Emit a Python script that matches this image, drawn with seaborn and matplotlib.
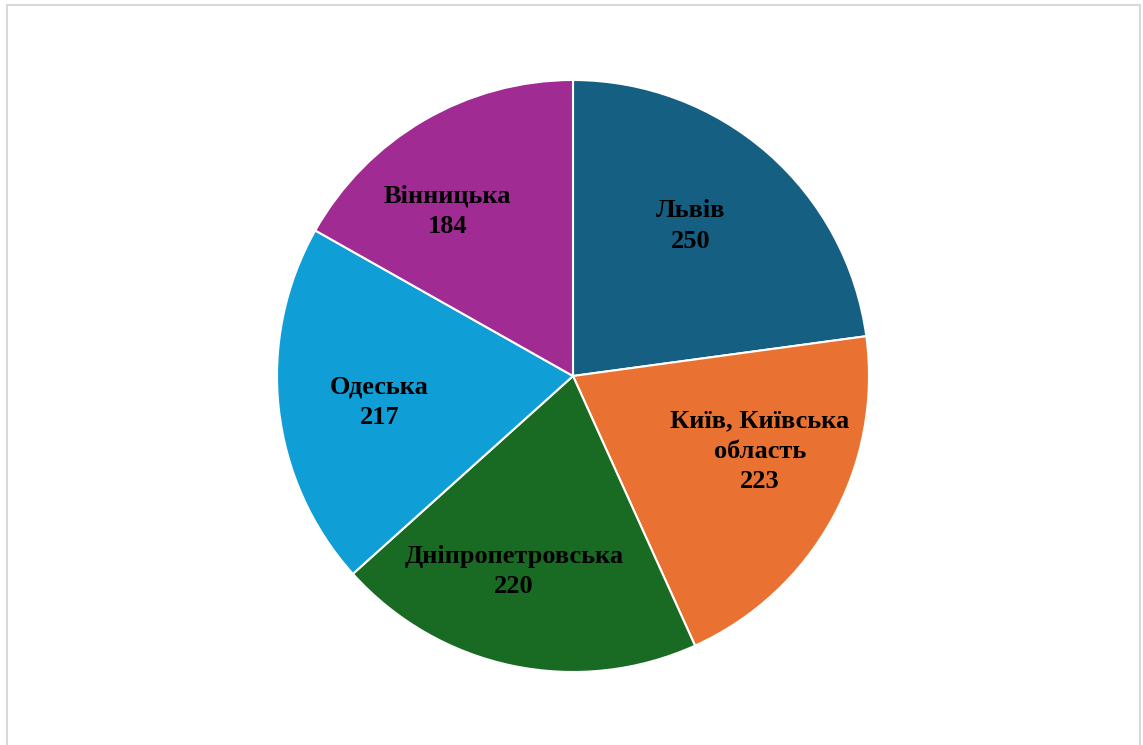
import numpy as np
import matplotlib
matplotlib.use("Agg")
import matplotlib.pyplot as plt
from matplotlib.patches import Rectangle
import seaborn as sns

regions = ["Львів", "Київ, Київська\nобласть", "Дніпропетровська", "Одеська", "Вінницька"]
counts = [250, 223, 220, 217, 184]
colors = ["#156082", "#E97132", "#196B24", "#0F9ED5", "#A02B93"]

sns.set_style("white")
plt.rcParams["font.family"] = ["Liberation Serif", "DejaVu Serif"]

W, H = 1143, 745
fig = plt.figure(figsize=(W / 100, H / 100), dpi=100)
fig.patch.set_facecolor("white")

# chart frame
fig.add_artist(Rectangle((7 / W, -0.05), (1140 - 7) / W, 1.05 - 5 / H,
                         transform=fig.transFigure, fill=False,
                         edgecolor="#d9d9d9", linewidth=1.5))

cx, cy, r = 573, 376, 296
ax = fig.add_axes([(cx - r) / W, (H - cy - r) / H, 2 * r / W, 2 * r / H])

wedges, _ = ax.pie(counts, colors=colors, startangle=90, counterclock=False,
                   radius=1.0,
                   wedgeprops=dict(edgecolor="white", linewidth=1.5))

# label placement inside each wedge: radial distance and angular nudge (deg)
label_dist = [0.645, 0.68, 0.69, 0.66, 0.70]
label_turn = [3, 7, -5, 1.5, 7]
for w, name, v, d, t in zip(wedges, regions, counts, label_dist, label_turn):
    mid = np.deg2rad((w.theta1 + w.theta2) / 2 + t)
    ax.text(d * np.cos(mid), d * np.sin(mid), f"{name}\n{v}",
            ha="center", va="center", fontsize=19, fontweight="bold",
            color="black", linespacing=1.42)

ax.set_xlim(-1, 1)
ax.set_ylim(-1, 1)
ax.set_aspect("equal")
ax.axis("off")

fig.savefig("out.png", dpi=100)
